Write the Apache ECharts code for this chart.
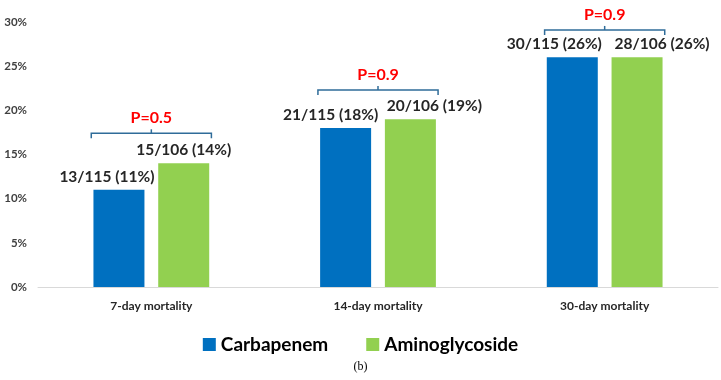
<!DOCTYPE html>
<html>
<head>
<meta charset="utf-8">
<script src="https://cdn.jsdelivr.net/npm/echarts@6/dist/echarts.min.js"></script>
<style>
  html, body { margin: 0; padding: 0; background: #fff; }
  #myChart { width: 721px; height: 380px; }
</style>
</head>
<body>
<div id="myChart"></div>
<script>
// chart data
var categories = ['7-day mortality', '14-day mortality', '30-day mortality'];
var carbDeaths = [13, 21, 30];
var carbTotal = 115;
var carbPct = [11, 18, 26];
var amiDeaths = [15, 20, 28];
var amiTotal = 106;
var amiPct = [14, 19, 26];
var pValues = ['P=0.5', 'P=0.9', 'P=0.9'];
var bracketLevel = [17.4, 22.3, 29.1];
var yTicks = [0, 5, 10, 15, 20, 25, 30];

document.addEventListener('DOMContentLoaded', () => {
    var myChart = echarts.init(document.getElementById('myChart'));
    var font = 'Lato, "Open Sans", sans-serif';
    var carbShift = [-12, -15, -18];
    var amiShift = [0, 24, 25];

    function barData(pct, deaths, total, shift) {
        return pct.map((v, i) => ({
            value: v,
            label: {
                formatter: deaths[i] + '/' + total + ' (' + v + '%)',
                offset: [shift[i], 0]
            }
        }));
    }

    var barLabel = {
        show: true,
        position: 'top',
        distance: 5,
        fontFamily: font,
        fontWeight: 'bold',
        fontSize: 15.5,
        color: '#262626'
    };

    var option = {
        animation: false,
        grid: { left: 38, right: 3, top: 22, bottom: 93 },
        legend: {
            top: 330,
            left: 'center',
            icon: 'rect',
            itemWidth: 13,
            itemHeight: 13,
            itemGap: 38,
            textStyle: { fontFamily: font, fontWeight: 'bold', fontSize: 19, color: '#000' },
            data: ['Carbapenem', 'Aminoglycoside']
        },
        title: {
            text: '(b)',
            left: 'center',
            top: 356,
            textStyle: { fontFamily: '"Liberation Serif", serif', fontWeight: 'normal', fontSize: 12, color: '#000' }
        },
        xAxis: {
            type: 'category',
            data: categories,
            axisLine: { lineStyle: { color: '#d9d9d9' } },
            axisTick: { show: false },
            axisLabel: { margin: 13, fontFamily: font, fontWeight: 'bold', fontSize: 12, color: '#262626' }
        },
        yAxis: {
            type: 'value',
            min: yTicks[0],
            max: yTicks[yTicks.length - 1],
            interval: 5,
            splitLine: { show: false },
            axisLine: { show: false },
            axisTick: { show: false },
            axisLabel: { margin: 11, formatter: '{value}%', fontFamily: font, fontWeight: 'bold', fontSize: 11.5, color: '#404040' }
        },
        series: [
            {
                name: 'Carbapenem',
                type: 'bar',
                barWidth: '22.5%',
                barGap: '27%',
                itemStyle: { color: '#0070c0' },
                label: barLabel,
                data: barData(carbPct, carbDeaths, carbTotal, carbShift)
            },
            {
                name: 'Aminoglycoside',
                type: 'bar',
                barWidth: '22.5%',
                barGap: '27%',
                itemStyle: { color: '#92d050' },
                label: barLabel,
                data: barData(amiPct, amiDeaths, amiTotal, amiShift)
            },
            {
                type: 'custom',
                silent: true,
                data: categories.map((c, i) => [i, bracketLevel[i], pValues[i]]),
                renderItem: function (params, api) {
                    var pt = api.coord([api.value(0), api.value(1)]);
                    var half = api.size([1, 0])[0] * 0.265;
                    var x0 = pt[0] - half, x1 = pt[0] + half, y = pt[1];
                    var ls = { stroke: '#2f6c99', lineWidth: 1.5, fill: null };
                    return {
                        type: 'group',
                        children: [
                            { type: 'polyline', shape: { points: [[x0, y + 5], [x0, y], [x1, y], [x1, y + 5]] }, style: ls },
                            { type: 'line', shape: { x1: pt[0], y1: y, x2: pt[0], y2: y - 4 }, style: ls },
                            {
                                type: 'text',
                                x: pt[0],
                                y: y - 15,
                                style: {
                                    text: pValues[params.dataIndex],
                                    fill: '#ff0000',
                                    font: 'bold 16px ' + font,
                                    align: 'center',
                                    verticalAlign: 'middle'
                                }
                            }
                        ]
                    };
                }
            }
        ]
    };

    myChart.setOption(option);
});
</script>
</body>
</html>
